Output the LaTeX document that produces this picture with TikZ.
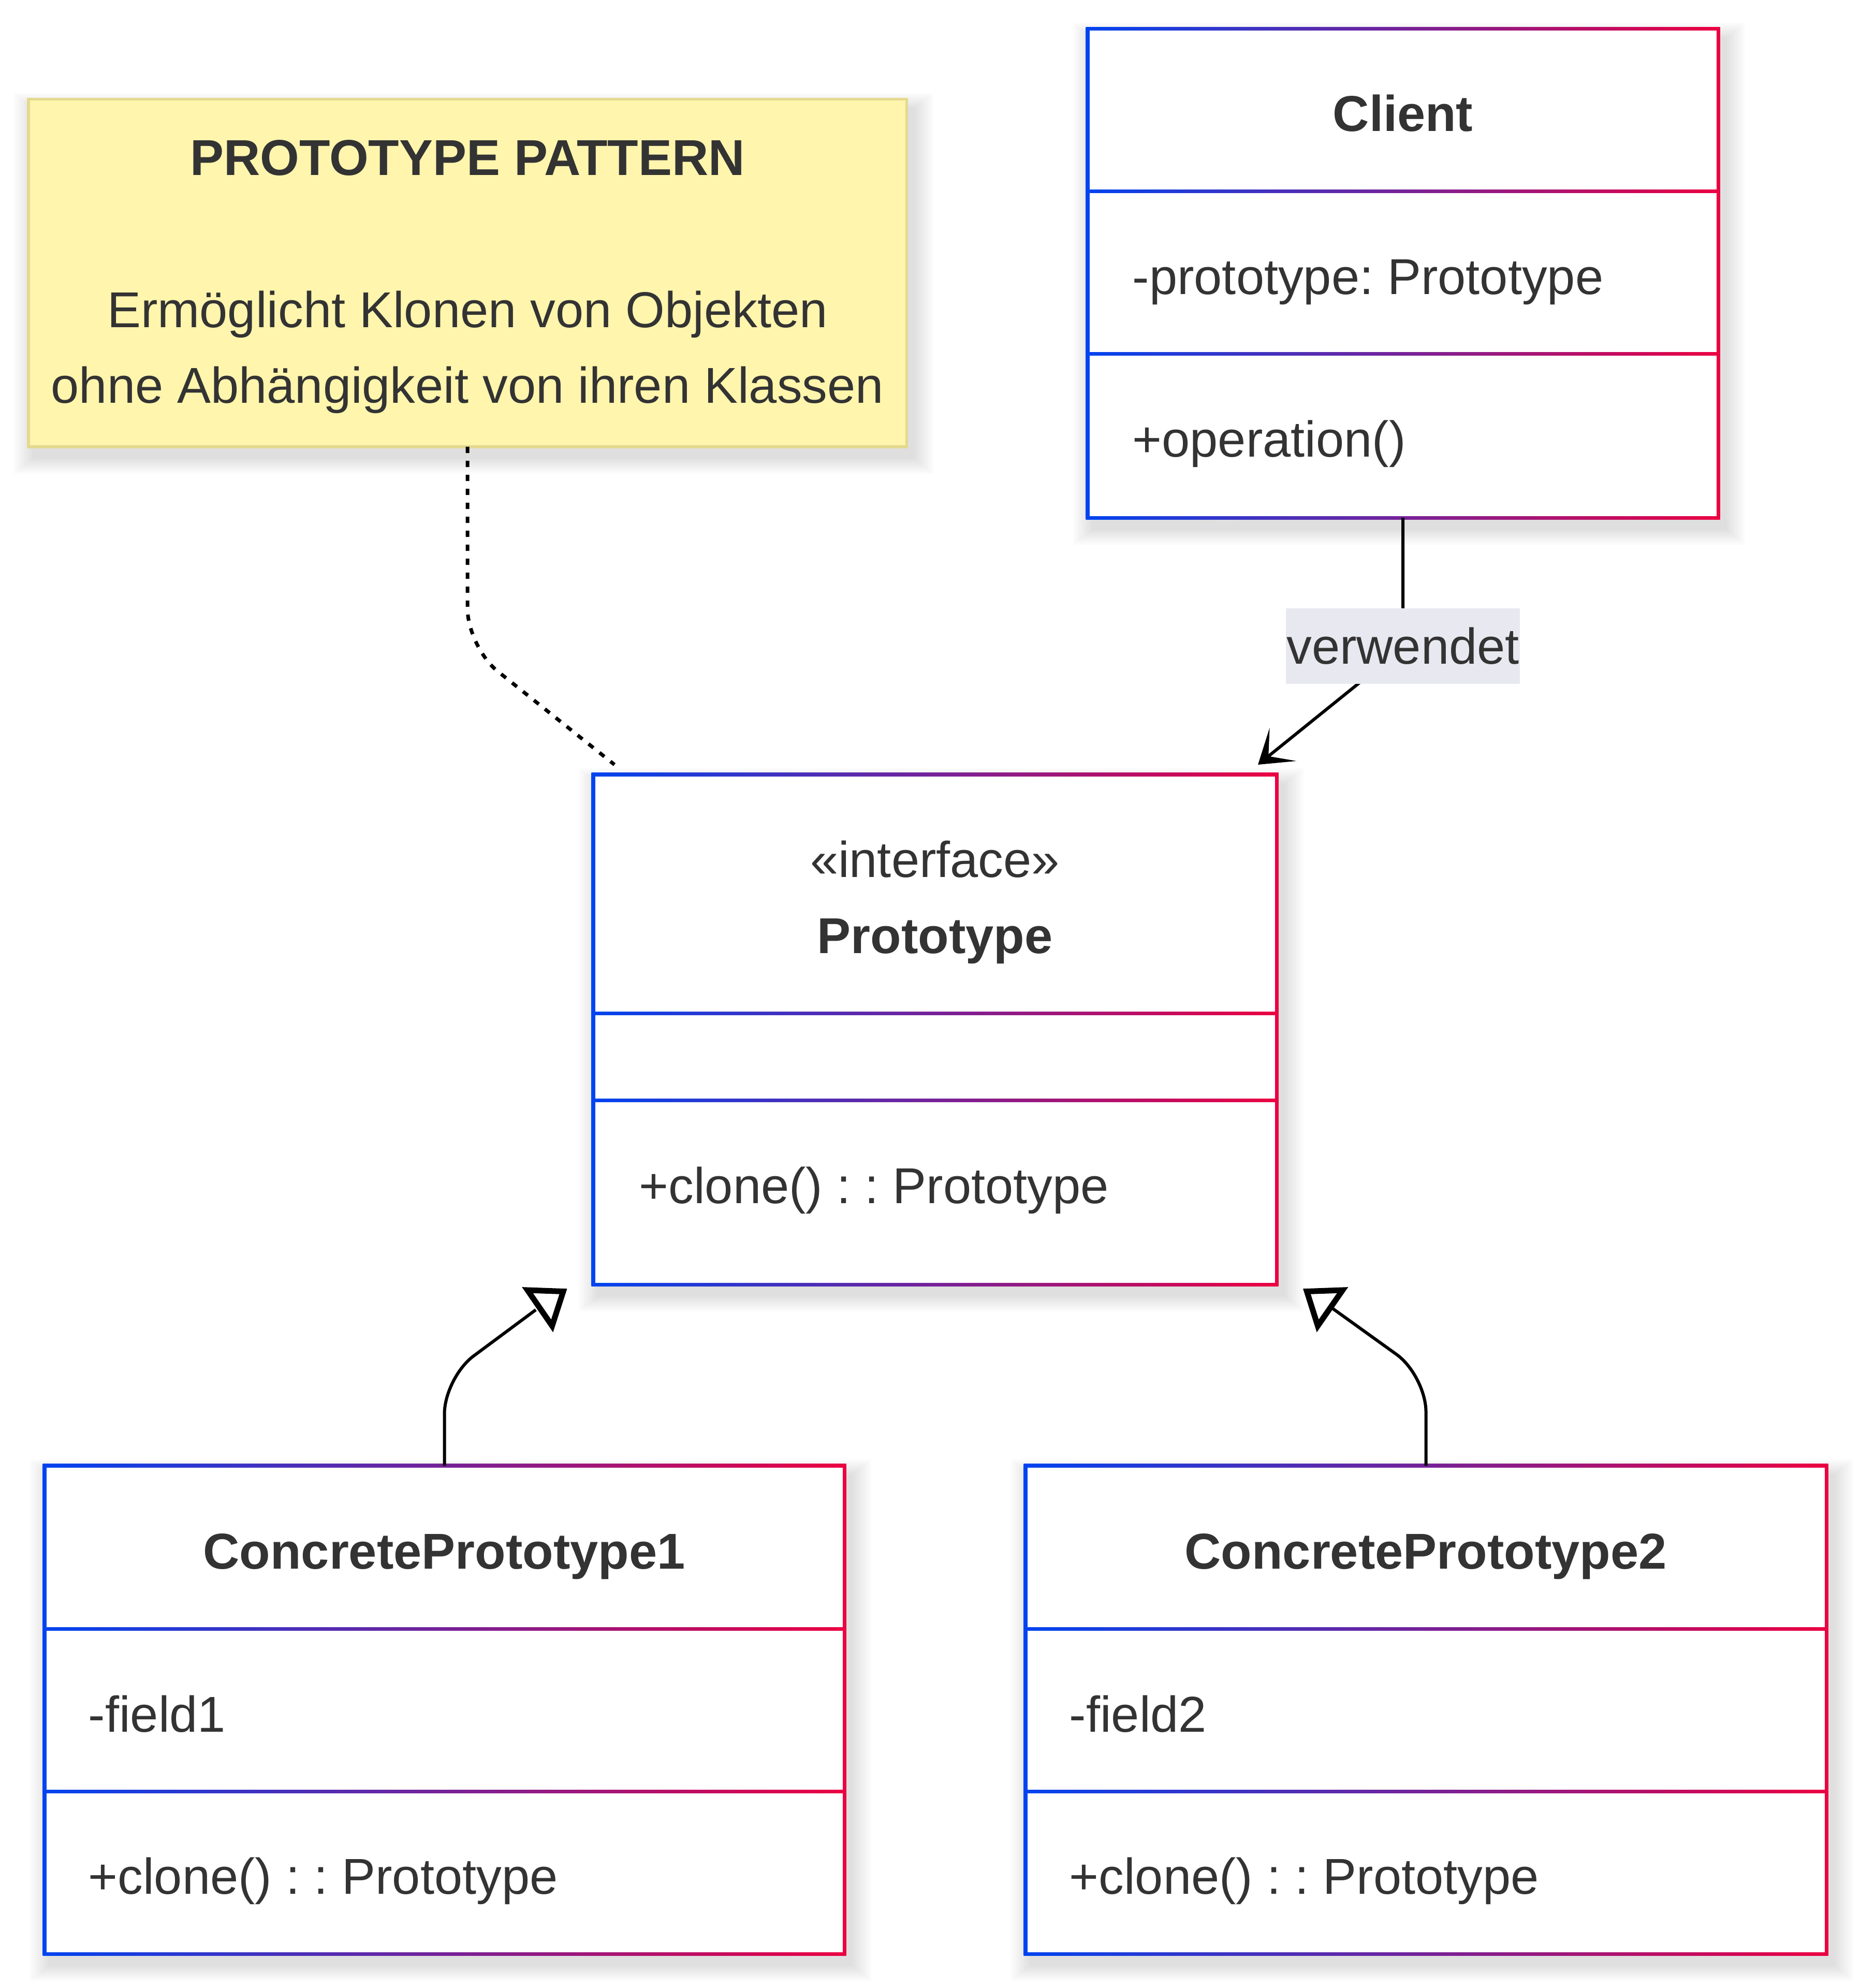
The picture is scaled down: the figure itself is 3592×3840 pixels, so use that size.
\documentclass[tikz,border=0pt]{standalone}
\usepackage{fontspec}
\setmainfont{Liberation Sans}
\usetikzlibrary{arrows.meta,fit,calc}
\definecolor{gL}{HTML}{0044F0}
\definecolor{gR}{HTML}{EC0041}
\definecolor{txt}{HTML}{333333}
\definecolor{noteFill}{HTML}{FFF5AD}
\definecolor{noteBorder}{HTML}{E4D98F}
\definecolor{lblbg}{HTML}{E8E8F0}
\frenchspacing
\newcommand\umlshadow[4]{\foreach \k in {1,...,8}{\fill[black,fill opacity=0.015] (#1+12-\k*5,#2+20-\k*4) rectangle (#3+12+\k*5,#4+20+\k*4);}}
\newcommand\umlframe[4]{%
  \umlshadow{#1}{#2}{#3}{#4}%
  \shade[left color=gL,right color=gR] (#1-3.5,#2-3.5) rectangle (#3+3.5,#4+3.5);
  \fill[white] (#1+3.5,#2+3.5) rectangle (#3-3.5,#4-3.5);}
\newcommand\umldiv[3]{\shade[left color=gL,right color=gR] (#1-3.5,#3-3) rectangle (#2+3.5,#3+3);}
\newcommand\fsz{\fontsize{27.7pt}{41.6pt}\selectfont\frenchspacing}
\begin{document}
\begin{tikzpicture}[x=0.01cm,y=-0.01cm,
  every node/.style={font=\fsz, text=txt},
  hook/.style={inner sep=0, outer sep=0},
  member/.style={anchor=base west, inner sep=0},
  ttl/.style={anchor=base, inner sep=0, font=\fsz\bfseries},
  plain/.style={anchor=base, inner sep=0},
  conn/.style={draw=black, line width=0.06cm},
  lbl/.style={fill=lblbg, inner sep=0, minimum width=4.51cm, minimum height=1.46cm},
  tri/.style={draw=black, line width=0.11cm, fill=white, line join=miter}
]
\useasboundingbox (0,0) rectangle (3592,3840);

% ---------- note ----------
\umlshadow{55}{192}{1751}{863}
\draw[fill=noteFill, draw=noteBorder, line width=0.05cm] (55,192) rectangle (1751,863);
\node[hook, fit={(55,192)(1751,863)}] (note) {};
\node[ttl] (noteT) at (903,339) {PROTOTYPE PATTERN};
\node[plain] (noteL1) at (903,633) {Ermöglicht Klonen von Objekten};
\node[plain] (noteL2) at (903,779) {ohne Abhängigkeit von ihren Klassen};

% ---------- Client ----------
\umlframe{2101}{56}{3319}{1000}
\umldiv{2101}{3319}{370}
\umldiv{2101}{3319}{684}
\node[hook, fit={(2101,56)(3319,1000)}] (client) {};
\node[ttl] (clientT) at (2710,254) {Client};
\node[member] (clientA) at (2187,569) {-prototype: Prototype};
\node[member] (clientM) at (2187,883) {+operation()};

% ---------- Prototype ----------
\umlframe{1146}{1496}{2466}{2481}
\umldiv{1146}{2466}{1957}
\umldiv{1146}{2466}{2125}
\node[hook, fit={(1146,1496)(2466,2481)}] (proto) {};
\node[plain] (protoS) at (1806,1694) {«interface»};
\node[ttl] (protoT) at (1806,1841) {Prototype};
\node[member] (protoM) at (1234,2324) {+clone() : : Prototype};

% ---------- ConcretePrototype1 ----------
\umlframe{86}{2831}{1631}{3774}
\umldiv{86}{1631}{3146}
\umldiv{86}{1631}{3460}
\node[hook, fit={(86,2831)(1631,3774)}] (cp1) {};
\node[ttl] (cp1T) at (858,3030) {ConcretePrototype1};
\node[member] (cp1A) at (170,3345) {-field1};
\node[member] (cp1M) at (170,3658) {+clone() : : Prototype};

% ---------- ConcretePrototype2 ----------
\umlframe{1981}{2831}{3528}{3774}
\umldiv{1981}{3528}{3146}
\umldiv{1981}{3528}{3460}
\node[hook, fit={(1981,2831)(3528,3774)}] (cp2) {};
\node[ttl] (cp2T) at (2754,3030) {ConcretePrototype2};
\node[member] (cp2A) at (2065,3345) {-field2};
\node[member] (cp2M) at (2065,3658) {+clone() : : Prototype};

% ---------- connectors ----------
\coordinate (useTip) at (2430,1477);
\coordinate (noteEnd) at (1187,1477);
\coordinate (inh1) at (1035,2530);
\coordinate (inh2) at (2575,2528);

\draw[conn, line width=0.07cm, dash pattern=on 0.12cm off 0.15cm, rounded corners=0.75cm]
  (note.south) -- (903,1250) -- (noteEnd);

\draw[conn, -{Stealth[length=0.62cm,width=0.82cm,inset=0.36cm]}, rounded corners=0.3cm]
  (client.south) -- (2710,1251) -- (useTip);
\node[lbl] (uselbl) at (2710,1248) {verwendet};

\draw[conn, rounded corners=0.7cm] (cp1.north) -- ++(0,-170) -- (inh1);
\draw[tri] (1019,2492) -- (1088,2494.5) -- (1066.5,2561) -- cycle;

\draw[conn, rounded corners=0.7cm] (cp2.north) -- ++(0,-174) -- (inh2);
\draw[tri] (2524.5,2494.5) -- (2593.5,2492) -- (2545.5,2561) -- cycle;
\end{tikzpicture}
\end{document}
